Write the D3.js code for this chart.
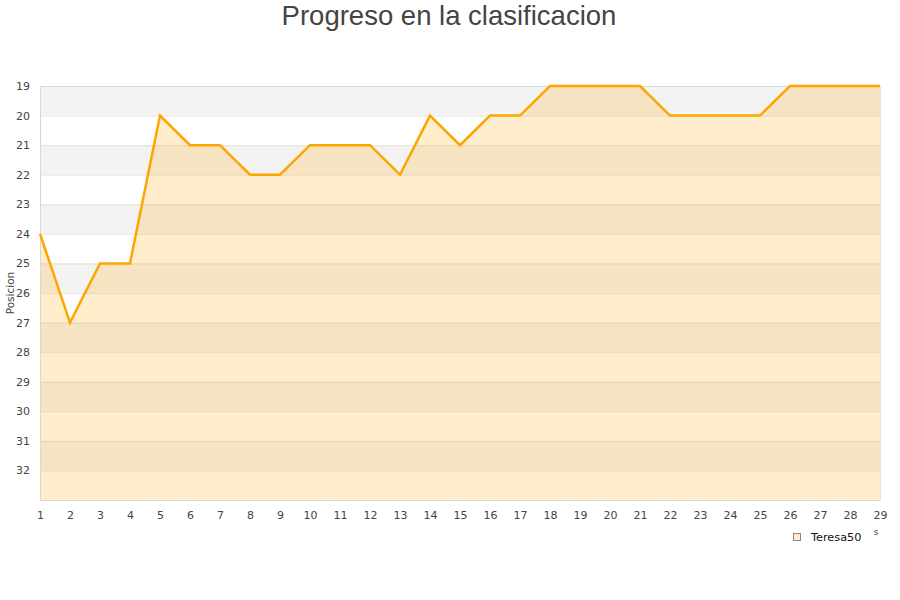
<!DOCTYPE html>
<html><head><meta charset="utf-8">
<script src="https://cdn.jsdelivr.net/npm/d3@7"></script>
<style>body{margin:0;background:#fff}</style>
</head><body>
<svg id="c" width="900" height="600"></svg>
<script>
const jornadas = d3.range(1, 30);
const posiciones = [24,27,25,25,20,21,21,22,22,21,21,21,22,20,21,20,20,19,19,19,19,20,20,20,20,19,19,19,19];
const yTicks = d3.range(19, 33);
const seriesName = "Teresa50";
const title = "Progreso en la clasificacion";
const yLabel = "Posicion";

const svg = d3.select("#c");
const m = {l:40, r:880, t:86, b:500};
const x = d3.scaleLinear().domain([1,29]).range([m.l, m.r]);
const y = d3.scaleLinear().domain([19,33]).range([m.t, m.b]);

const bands = d3.range(19, 33);
svg.append("g").selectAll("rect").data(bands).join("rect")
  .attr("x", m.l).attr("width", m.r - m.l)
  .attr("y", d => y(d)).attr("height", d => y(d+1) - y(d))
  .attr("fill", d => d % 2 === 1 ? "#f3f3f3" : "#ffffff");

const area = d3.area().x((d,i)=>x(jornadas[i])).y0(y(33)).y1(d=>y(d));
svg.append("path").datum(posiciones).attr("d", area)
  .attr("fill", "rgba(255,165,0,0.2)");

svg.append("g").selectAll("line").data(d3.range(19, 34)).join("line")
  .attr("x1", m.l).attr("x2", m.r).attr("y1", d=>y(d)+0.5).attr("y2", d=>y(d)+0.5)
  .attr("stroke", d => (d===19||d===33) ? "#d8d8d8" : "rgba(200,180,150,0.35)").attr("stroke-width", 1);
svg.append("line").attr("x1", m.l+0.5).attr("x2", m.l+0.5).attr("y1", m.t).attr("y2", m.b)
  .attr("stroke", "#d8d8d8");
svg.append("line").attr("x1", m.r+0.5).attr("x2", m.r+0.5).attr("y1", m.t).attr("y2", m.b)
  .attr("stroke", "#e4e4e4");

const line = d3.line().x((d,i)=>x(jornadas[i])).y(d=>y(d));
svg.append("path").datum(posiciones).attr("d", line)
  .attr("fill", "none").attr("stroke", "#ffa500").attr("stroke-width", 2.5)
  .attr("stroke-linejoin", "miter");

const yAxis = d3.axisLeft(y).tickValues(yTicks).tickSize(0).tickPadding(10);
const gy = svg.append("g").attr("transform", `translate(${m.l},0)`).call(yAxis);
gy.select(".domain").remove();
gy.selectAll("text").attr("font-family", "DejaVu Sans").attr("font-size", 11).attr("fill", "#444");

const xAxis = d3.axisBottom(x).tickValues(jornadas).tickSize(0).tickPadding(11).tickFormat(d3.format("d"));
const gx = svg.append("g").attr("transform", `translate(0,${m.b})`).call(xAxis);
gx.select(".domain").remove();
gx.selectAll("text").attr("font-family", "DejaVu Sans").attr("font-size", 11).attr("fill", "#444");

svg.append("text").attr("x", 449).attr("y", 25).attr("text-anchor", "middle")
  .attr("font-family", "Liberation Sans, Arial").attr("font-size", 27.5).attr("fill", "#444").text(title);

svg.append("text").attr("transform", "translate(14,293) rotate(-90)").attr("text-anchor", "middle")
  .attr("font-family", "DejaVu Sans").attr("font-size", 10.5).attr("fill", "#444").text(yLabel);

svg.append("rect").attr("x", 793.5).attr("y", 533.5).attr("width", 7).attr("height", 7)
  .attr("fill", "#ffedcc").attr("stroke", "#888").attr("stroke-width", 1);
svg.append("text").attr("x", 811).attr("y", 540.5).attr("font-family", "DejaVu Sans").attr("font-size", 11.3)
  .attr("fill", "#111").text(seriesName);
svg.append("text").attr("x", 876).attr("y", 535).attr("text-anchor", "middle").attr("font-family", "DejaVu Sans").attr("font-size", 9)
  .attr("fill", "#444").text("s");
</script>
</body></html>
